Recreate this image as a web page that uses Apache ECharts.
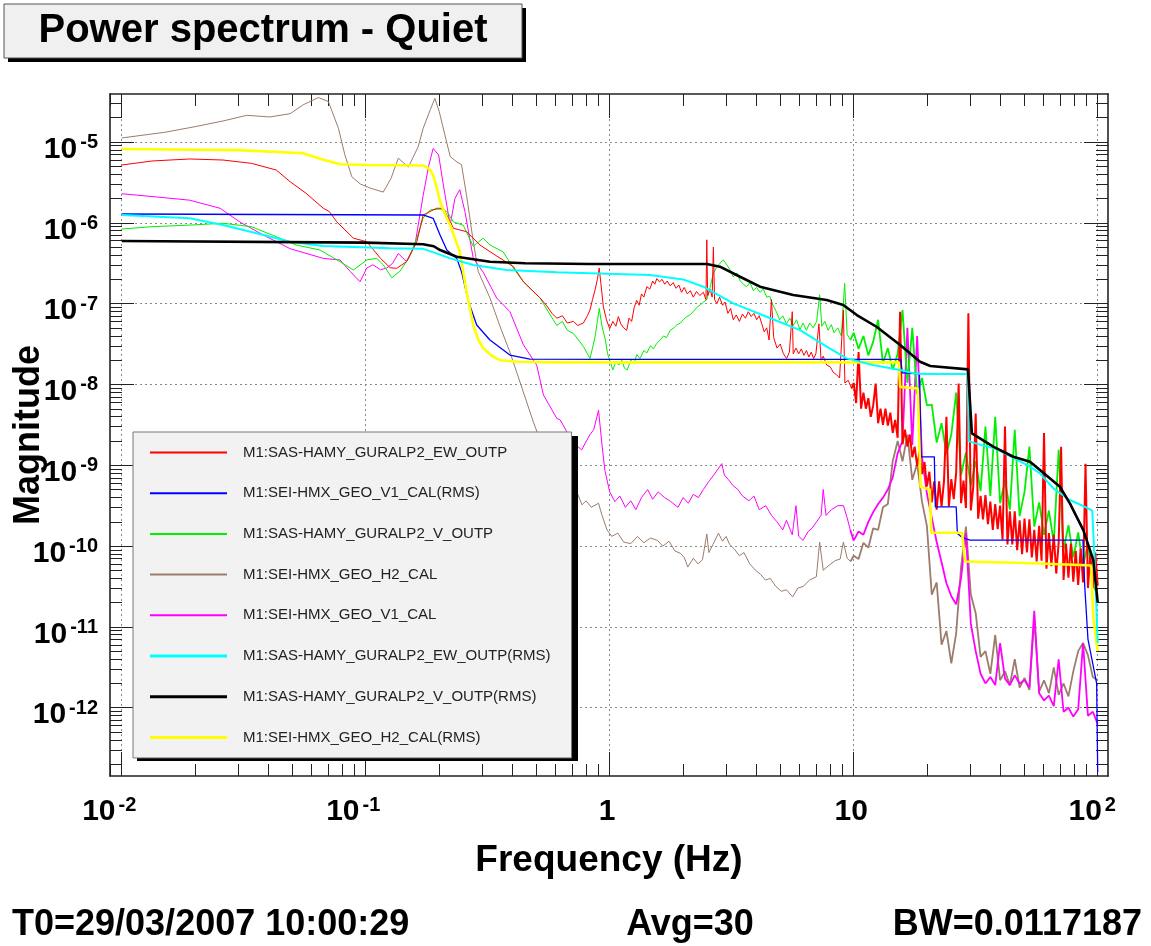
<!DOCTYPE html>
<html><head><meta charset="utf-8">
<script src="https://cdn.jsdelivr.net/npm/echarts@6/dist/echarts.min.js"></script>
<style>html,body{margin:0;padding:0;background:#fff}#c{width:1151px;height:946px}</style>
</head><body><div id="c"></div>
<script>
// ---- Names & colours ----
const seriesNames = [
  'M1:SAS-HAMY_GURALP2_EW_OUTP',
  'M1:SEI-HMX_GEO_V1_CAL(RMS)',
  'M1:SAS-HAMY_GURALP2_V_OUTP',
  'M1:SEI-HMX_GEO_H2_CAL',
  'M1:SEI-HMX_GEO_V1_CAL',
  'M1:SAS-HAMY_GURALP2_EW_OUTP(RMS)',
  'M1:SAS-HAMY_GURALP2_V_OUTP(RMS)',
  'M1:SEI-HMX_GEO_H2_CAL(RMS)'
];
const seriesColors = ['#ff0000','#0000ff','#00f000','#9c7c6c','#ff00ff','#00ffff','#000000','#ffff00'];

// ---- Tick values ----
const xMajorTicks = [0.01, 0.1, 1, 10, 100];
const yMajorTicks = [1e-12, 1e-11, 1e-10, 1e-9, 1e-8, 1e-7, 1e-6, 1e-5];

// ---- Data: frequency in Hz, magnitude given as log10(magnitude) ----
const hfFreqFine = [10,10.23,10.47,10.72,10.96,11.22,11.48,11.75,12.02,12.30,12.59,12.88,13.18,13.49,13.80,14.13,14.45,14.79,15.14,15.49,15.85,16.22,16.60,16.98,17.38,17.78,18.20,18.62,19.05,19.50,19.95,20.42,20.89,21.38,21.88,22.39,22.91,23.44,23.99,24.55,25.12,25.70,26.30,26.92,27.54,28.18,28.84,29.51,30.20,30.90,31.62,32.36,33.11,33.88,34.67,35.48,36.31,37.15,38.02,38.90,39.81,40.74,41.69,42.66,43.65,44.67,45.71,46.77,47.86,48.98,50.12,51.29,52.48,53.70,54.95,56.23,57.54,58.88,60.26,61.66,63.10,64.57,66.07,67.61,69.18,70.79,72.44,74.13,75.86,77.62,79.43,81.28,83.18,85.11,87.10,89.13,91.20,93.33,95.50,97.72,100];
const hfFreq = [10,10.47,10.96,11.48,12.02,12.59,13.18,13.80,14.45,15.14,15.85,16.60,17.38,18.20,19.05,19.95,20.89,21.88,22.91,23.99,25.12,26.30,27.54,28.84,30.20,31.62,33.11,34.67,36.31,38.02,39.81,41.69,43.65,45.71,47.86,50.12,52.48,54.95,57.54,60.26,63.10,66.07,69.18,72.44,75.86,79.43,83.18,87.10,91.20,95.50,100];

const redLF = [[0.01,-5.285],[0.0133,-5.235],[0.019,-5.21],[0.026,-5.223],[0.034,-5.264],[0.043,-5.347],[0.049,-5.491],[0.057,-5.635],[0.067,-5.82],[0.071,-5.862],[0.076,-5.986],[0.089,-6.19],[0.101,-6.234],[0.115,-6.44],[0.126,-6.556],[0.134,-6.563],[0.147,-6.481],[0.162,-6.234],[0.172,-5.903],[0.195,-5.82],[0.208,-5.82],[0.229,-6.068],[0.259,-6.11],[0.294,-6.275],[0.323,-6.357],[0.403,-6.543],[0.443,-6.729],[0.518,-6.93],[0.55,-7.02],[0.58,-7.12],[0.607,-7.18],[0.64,-7.15],[0.67,-7.24],[0.71,-7.22],[0.74,-7.27],[0.78,-7.24],[0.81,-7.15],[0.83,-7.08],[0.85,-6.95],[0.871,-6.83],[0.89,-6.70],[0.906,-6.56],[0.92,-6.75],[0.942,-7.04],[0.97,-7.20],[1.0,-7.31],[1.03,-7.22],[1.06,-7.28],[1.085,-7.16],[1.11,-7.25],[1.14,-7.30],[1.174,-7.33],[1.20,-7.18],[1.23,-7.22],[1.26,-7.05],[1.29,-6.96],[1.32,-7.02],[1.35,-6.88],[1.38,-6.92],[1.42,-6.79],[1.46,-6.82],[1.50,-6.72],[1.53,-6.76],[1.56,-6.69],[1.60,-6.73],[1.64,-6.70],[1.68,-6.76],[1.72,-6.72],[1.77,-6.78],[1.82,-6.74],[1.87,-6.81],[1.92,-6.77],[1.97,-6.86],[2.02,-6.80],[2.08,-6.88],[2.14,-6.84],[2.2,-6.92],[2.27,-6.85],[2.34,-6.90],[2.42,-6.86],[2.48,-6.95],[2.50,-6.21],[2.52,-6.90],[2.58,-6.82],[2.63,-6.92],[2.66,-6.30],[2.69,-6.95],[2.75,-7.00],[2.82,-6.92],[2.90,-7.02],[2.97,-6.98],[3.05,-7.12],[3.13,-7.06],[3.21,-7.20],[3.30,-7.14],[3.40,-7.22],[3.50,-7.13],[3.60,-7.18],[3.70,-7.10],[3.80,-7.16],[3.90,-7.12],[4.00,-7.20],[4.10,-7.15],[4.20,-7.25],[4.30,-7.35],[4.40,-7.30],[4.50,-7.45],[4.60,-6.95],[4.70,-7.42],[4.85,-7.55],[5.00,-7.50],[5.15,-7.62],[5.31,-7.68],[5.45,-7.60],[5.60,-7.10],[5.65,-7.62],[5.80,-7.55],[5.95,-7.62],[6.10,-7.56],[6.25,-7.64],[6.40,-7.58],[6.55,-7.66],[6.70,-7.60],[6.85,-7.68],[7.00,-7.62],[7.20,-7.25],[7.35,-7.70],[7.50,-7.65],[7.75,-7.76],[8.00,-7.78],[8.25,-7.85],[8.50,-7.88],[8.75,-7.92],[9.07,-7.08],[9.2,-7.98],[9.5,-7.95],[9.8,-8.05]];
const redHF = [-7.98,-8.23,-7.60,-8.30,-8.10,-8.30,-8.17,-8.40,-8.26,-7.99,-8.48,-8.30,-8.50,-8.30,-8.51,-8.35,-8.60,-8.44,-8.66,-7.10,-8.74,-8.56,-8.77,-8.62,-8.90,-8.77,-9.01,-8.83,-9.11,-8.96,-9.26,-9.08,-9.46,-9.20,-9.55,-9.20,-9.51,-9.20,-8.40,-9.51,-9.17,-9.42,-9.09,-7.99,-9.47,-9.19,-9.53,-7.12,-9.56,-9.27,-8.36,-9.66,-9.38,-9.67,-9.37,-9.73,-9.45,-9.80,-9.48,-9.79,-9.50,-9.92,-8.52,-9.98,-9.57,-9.98,-9.57,-10.05,-9.68,-10.10,-9.66,-10.08,-9.67,-10.14,-9.80,-10.19,-9.75,-10.18,-8.60,-10.28,-9.84,-10.25,-9.86,-10.34,-9.96,-8.77,-10.42,-9.97,-10.39,-9.97,-10.44,-10.06,-10.48,-10.03,-10.45,-8.98,-10.52,-10.10,-10.52,-10.08,-10.49];

const greenLF = [[0.01,-6.077],[0.0133,-6.048],[0.019,-6.028],[0.026,-6.006],[0.034,-6.048],[0.043,-6.172],[0.052,-6.275],[0.065,-6.337],[0.0785,-6.481],[0.089,-6.584],[0.101,-6.46],[0.111,-6.44],[0.118,-6.52],[0.128,-6.68],[0.138,-6.60],[0.150,-6.44],[0.162,-6.19],[0.172,-5.94],[0.184,-5.84],[0.202,-5.83],[0.215,-5.86],[0.229,-5.99],[0.251,-6.03],[0.276,-6.29],[0.303,-6.19],[0.323,-6.275],[0.366,-6.36],[0.403,-6.56],[0.443,-6.73],[0.518,-6.93],[0.56,-7.10],[0.607,-7.27],[0.64,-7.22],[0.67,-7.33],[0.71,-7.37],[0.745,-7.45],[0.78,-7.53],[0.81,-7.62],[0.83,-7.68],[0.85,-7.55],[0.871,-7.41],[0.89,-7.22],[0.906,-7.06],[0.93,-7.28],[0.96,-7.45],[0.98,-7.62],[1.0,-7.70],[1.03,-7.82],[1.06,-7.72],[1.09,-7.76],[1.12,-7.70],[1.15,-7.80],[1.18,-7.82],[1.22,-7.70],[1.26,-7.74],[1.29,-7.63],[1.33,-7.68],[1.38,-7.58],[1.42,-7.61],[1.47,-7.52],[1.51,-7.56],[1.56,-7.49],[1.61,-7.45],[1.66,-7.40],[1.71,-7.42],[1.77,-7.33],[1.83,-7.30],[1.89,-7.26],[1.95,-7.24],[2.0,-7.20],[2.07,-7.16],[2.13,-7.14],[2.2,-7.10],[2.27,-7.05],[2.34,-7.02],[2.42,-6.98],[2.5,-6.95],[2.58,-6.80],[2.66,-6.62],[2.74,-6.55],[2.83,-6.50],[2.92,-6.46],[3.02,-6.52],[3.11,-6.58],[3.21,-6.67],[3.32,-6.62],[3.43,-6.72],[3.53,-6.76],[3.64,-6.79],[3.76,-6.74],[3.88,-6.84],[4.0,-6.80],[4.13,-6.86],[4.26,-6.82],[4.4,-6.92],[4.53,-6.91],[4.67,-7.02],[4.82,-7.10],[4.97,-7.20],[5.12,-7.15],[5.3,-7.25],[5.47,-7.18],[5.65,-7.27],[5.83,-7.20],[6.02,-7.32],[6.2,-7.24],[6.4,-7.33],[6.6,-7.24],[6.82,-7.30],[7.05,-7.22],[7.25,-6.89],[7.4,-7.28],[7.62,-7.22],[7.85,-7.33],[8.1,-7.26],[8.3,-7.36],[8.6,-7.30],[8.9,-7.40],[9.18,-6.75],[9.4,-7.38],[9.7,-7.45]];
const greenHF = [-7.36,-7.56,-7.40,-7.64,-7.47,-7.20,-7.74,-7.55,-7.82,-7.62,-7.08,-7.98,-7.30,-8.12,-7.92,-8.26,-8.25,-8.72,-8.48,-8.86,-8.62,-8.10,-9.12,-8.84,-9.25,-8.95,-9.32,-8.52,-9.38,-8.40,-9.47,-9.18,-9.55,-8.56,-9.63,-9.33,-8.77,-9.76,-9.46,-9.86,-9.56,-9.96,-8.81,-10.05,-9.74,-10.14,-9.83,-10.25,-9.96,-10.48,-10.60];

const brownLF = [[0.01,-4.95],[0.015,-4.88],[0.02,-4.81],[0.026,-4.74],[0.0325,-4.67],[0.0405,-4.69],[0.049,-4.65],[0.0554,-4.54],[0.064,-4.45],[0.0703,-4.50],[0.0773,-4.83],[0.082,-5.15],[0.0877,-5.43],[0.095,-5.52],[0.1043,-5.57],[0.118,-5.62],[0.127,-5.45],[0.136,-5.20],[0.1496,-5.31],[0.164,-5.06],[0.172,-4.83],[0.184,-4.60],[0.192,-4.46],[0.2,-4.62],[0.211,-4.91],[0.222,-5.18],[0.237,-5.25],[0.247,-5.28],[0.259,-5.66],[0.275,-6.20],[0.289,-6.60],[0.323,-6.93],[0.355,-7.28],[0.39,-7.60],[0.43,-7.98],[0.486,-8.46],[0.55,-8.90],[0.62,-9.22],[0.70,-9.42],[0.74,-9.36],[0.77,-9.49],[0.80,-9.44],[0.84,-9.52],[0.90,-9.47],[0.93,-9.62],[0.975,-9.80],[1.02,-9.88],[1.08,-9.84],[1.14,-9.95],[1.22,-9.97],[1.30,-9.88],[1.38,-9.96],[1.47,-9.90],[1.57,-9.93],[1.65,-10.00],[1.75,-9.94],[1.85,-10.06],[1.95,-10.09],[2.02,-10.14],[2.09,-10.26],[2.2,-10.15],[2.3,-10.22],[2.4,-10.17],[2.5,-9.85],[2.55,-10.08],[2.65,-9.98],[2.79,-9.84],[2.9,-9.94],[3.0,-9.88],[3.1,-9.98],[3.25,-10.04],[3.4,-10.12],[3.55,-10.08],[3.75,-10.22],[3.96,-10.30],[4.15,-10.35],[4.35,-10.42],[4.55,-10.40],[4.8,-10.50],[5.05,-10.56],[5.3,-10.54],[5.62,-10.63],[5.9,-10.52],[6.2,-10.50],[6.6,-10.42],[7.03,-10.38],[7.25,-9.95],[7.5,-10.30],[7.9,-10.24],[8.4,-10.18],[8.8,-10.16],[9.07,-9.95],[9.4,-10.15],[9.7,-10.19]];
const brownHF = [-10.12,-10.16,-9.96,-10.02,-9.78,-9.80,-9.52,-9.48,-8.95,-8.70,-8.95,-8.62,-9.18,-8.98,-9.45,-9.75,-10.60,-10.45,-11.22,-11.05,-11.45,-11.08,-10.26,-9.76,-10.60,-10.83,-11.37,-11.30,-11.58,-11.10,-11.66,-11.55,-11.72,-11.40,-11.75,-11.63,-11.78,-10.90,-11.80,-11.66,-11.82,-11.50,-11.84,-11.70,-11.86,-11.55,-11.30,-11.20,-11.35,-11.62,-11.66];

const magentaLF = [[0.01,-5.64],[0.0139,-5.68],[0.019,-5.72],[0.0253,-5.82],[0.0305,-5.99],[0.038,-6.15],[0.049,-6.32],[0.067,-6.44],[0.0785,-6.46],[0.0863,-6.60],[0.0948,-6.73],[0.101,-6.56],[0.107,-6.52],[0.115,-6.58],[0.122,-6.56],[0.129,-6.50],[0.136,-6.38],[0.147,-6.48],[0.159,-6.28],[0.172,-5.66],[0.181,-5.30],[0.189,-5.08],[0.199,-5.16],[0.208,-5.53],[0.222,-6.03],[0.232,-5.70],[0.243,-5.59],[0.255,-5.86],[0.276,-6.44],[0.303,-6.61],[0.344,-6.93],[0.39,-7.10],[0.443,-7.51],[0.502,-7.76],[0.535,-8.13],[0.607,-8.42],[0.627,-8.44],[0.70,-8.70],[0.767,-8.81],[0.83,-8.62],[0.86,-8.56],[0.90,-8.32],[0.93,-8.75],[0.955,-9.06],[1.0,-9.33],[1.05,-9.45],[1.1,-9.38],[1.16,-9.52],[1.22,-9.44],[1.28,-9.55],[1.35,-9.40],[1.43,-9.30],[1.5,-9.42],[1.58,-9.33],[1.68,-9.40],[1.78,-9.45],[1.905,-9.52],[2.0,-9.40],[2.1,-9.47],[2.2,-9.36],[2.31,-9.40],[2.42,-9.30],[2.55,-9.20],[2.7,-9.10],[2.88,-8.98],[2.95,-9.12],[3.07,-9.18],[3.2,-9.25],[3.35,-9.30],[3.5,-9.38],[3.72,-9.44],[3.9,-9.38],[4.1,-9.55],[4.36,-9.50],[4.6,-9.62],[4.85,-9.70],[5.12,-9.80],[5.3,-9.68],[5.6,-9.86],[5.8,-9.50],[5.95,-9.88],[6.2,-9.93],[6.5,-9.82],[6.75,-9.78],[7.04,-9.70],[7.35,-9.62],[7.5,-9.30],[7.7,-9.62],[8.1,-9.55],[8.6,-9.50],[9.08,-9.50],[9.4,-9.65],[9.68,-9.80]];
const magentaHF = [-9.93,-9.82,-9.86,-9.70,-9.58,-9.48,-9.40,-9.30,-9.15,-8.85,-8.70,-7.30,-8.75,-7.40,-8.90,-9.35,-9.65,-9.95,-10.20,-10.46,-10.62,-10.72,-10.40,-9.84,-10.96,-11.30,-11.58,-11.70,-11.62,-11.72,-11.20,-11.64,-11.72,-11.60,-11.70,-11.66,-11.75,-10.80,-11.82,-11.91,-11.85,-11.98,-11.40,-12.05,-12.00,-12.11,-12.02,-11.20,-12.10,-12.05,-12.20];

const blueRMS = [[0.01,-5.891],[0.172,-5.903],[0.189,-5.944],[0.2017,-6.151],[0.215,-6.337],[0.236,-6.44],[0.247,-6.605],[0.264,-6.977],[0.285,-7.265],[0.323,-7.45],[0.39,-7.636],[0.471,-7.686],[1,-7.69],[15.6,-7.69],[15.8,-7.855],[18.6,-7.87],[18.9,-8.895],[21.4,-8.895],[21.6,-9.514],[26.3,-9.514],[26.6,-9.843],[28,-9.90],[30,-9.926],[87,-9.926],[88.5,-10.5],[91.2,-11.15],[99,-11.70],[100,-12.8]];
const cyanRMS = [[0.01,-5.903],[0.019,-5.944],[0.026,-6.027],[0.0357,-6.13],[0.049,-6.234],[0.067,-6.287],[0.126,-6.316],[0.172,-6.322],[0.195,-6.378],[0.222,-6.44],[0.276,-6.522],[0.378,-6.584],[0.607,-6.613],[0.83,-6.625],[1.46,-6.646],[2.0,-6.70],[2.42,-6.791],[3.21,-6.996],[4.4,-7.162],[6.03,-7.327],[7.75,-7.533],[9.36,-7.677],[12,-7.76],[15.5,-7.822],[17.7,-7.863],[20,-7.87],[29.3,-7.87],[29.6,-8.70],[30.8,-8.72],[38.5,-8.80],[52.8,-9.017],[58,-9.10],[65.8,-9.286],[76.9,-9.43],[88.7,-9.514],[95,-9.56],[97.5,-10.3],[100,-11.2]];
const blackRMS = [[0.01,-6.225],[0.1,-6.245],[0.172,-6.266],[0.19,-6.29],[0.2017,-6.337],[0.236,-6.42],[0.323,-6.481],[0.45,-6.50],[0.83,-6.51],[2.5,-6.51],[2.83,-6.543],[3.42,-6.667],[4.13,-6.79],[5.65,-6.894],[7.75,-6.955],[9.06,-7.017],[10.3,-7.141],[12.4,-7.286],[15.5,-7.512],[18.7,-7.719],[20.6,-7.772],[29.4,-7.813],[30.5,-8.606],[37.3,-8.77],[45.1,-8.895],[52.8,-8.957],[58,-9.06],[70,-9.266],[76.9,-9.472],[87.3,-9.802],[95.9,-10.17],[100,-10.7]];
const yellowRMS = [[0.01,-5.087],[0.03,-5.10],[0.0554,-5.14],[0.067,-5.22],[0.0785,-5.276],[0.1,-5.285],[0.172,-5.29],[0.182,-5.33],[0.189,-5.41],[0.196,-5.58],[0.2017,-5.74],[0.212,-5.90],[0.222,-6.03],[0.243,-6.36],[0.259,-6.85],[0.276,-7.27],[0.29,-7.45],[0.303,-7.55],[0.33,-7.65],[0.355,-7.70],[0.42,-7.72],[0.6,-7.727],[15.3,-7.727],[15.5,-8.03],[18.3,-8.05],[18.8,-9.27],[20.5,-9.30],[20.8,-9.835],[27.8,-9.835],[28.6,-10.19],[50,-10.21],[85,-10.235],[94,-10.24],[96,-10.9],[99,-11.2],[100,-11.3]];

// ---- build data pairs [Hz, magnitude] ----
function pairs(list) { return list.map(p => [p[0], Math.pow(10, p[1])]); }
function gridPairs(freqs, logs) { const n = Math.min(freqs.length, logs.length); const out = []; for (let i = 0; i < n; i++) out.push([freqs[i], Math.pow(10, logs[i])]); return out; }

// parts: [seriesIndex, data, width]  (drawing order: first = bottom)
const parts = [
  [3, pairs(brownLF), 1], [3, gridPairs(hfFreq, brownHF), 1.8],
  [4, pairs(magentaLF), 1], [4, gridPairs(hfFreq, magentaHF), 1.8],
  [2, pairs(greenLF), 1], [2, gridPairs(hfFreq, greenHF), 1.8],
  [0, pairs(redLF), 1], [0, gridPairs(hfFreqFine, redHF), 2],
  [1, pairs(blueRMS), 1.3],
  [7, pairs(yellowRMS), 2.6],
  [5, pairs(cyanRMS), 2],
  [6, pairs(blackRMS), 2.6]
];
// join the low- and high-frequency pieces so each line is continuous
for (let k = 0; k < parts.length - 1; k++) {
  if (parts[k][0] === parts[k + 1][0]) { parts[k + 1][1].unshift(parts[k][1][parts[k][1].length - 1]); }
}

// ---- minor tick values (2..9 x decade) ----
function minorTicks(e0, e1) { const out = []; for (let e = e0; e <= e1; e++) for (let k = 2; k < 10; k++) out.push(+(k * Math.pow(10, e)).toPrecision(3)); return out; }
const xMinorTicks = minorTicks(-3, 2);
const yMinorTicks = minorTicks(-13, -5);

const X_MIN = 0.008954, X_MAX = 110.2;
const Y_MIN = 1.429e-13, Y_MAX = 3.926e-5;

const FONT = "'Liberation Sans', Arial, Helvetica, sans-serif";
function richFor(padS) {
  const sup = { fontSize: 20, fontWeight: 'bold', fontFamily: FONT, color: '#000', lineHeight: 12, verticalAlign: 'top' };
  return {
    b: { fontSize: 30, fontWeight: 'bold', fontFamily: FONT, color: '#000', lineHeight: 34 },
    s: Object.assign({}, sup, { padding: [0, 0, 0, 3] }),
    sn: Object.assign({}, sup, { padding: [0, 25, 0, 3] }),
    sp: Object.assign({}, sup, { padding: [0, 11, 0, 3] }),
    p: { fontSize: 30, fontWeight: 'bold', fontFamily: FONT, color: '#000', lineHeight: 34, padding: [0, padS, 0, 0] }
  };
}
function expOf(v) { return Math.round(Math.log10(v)); }
function yFmt(v) { return '{b|10}{s|' + expOf(v) + '}'; }
function xFmt(v) {
  const e = expOf(v);
  if (e === 0) return '{p|1}';
  if (e === 1) return '{p|10}';
  return '{b|10}{' + (e < 0 ? 'sn' : 'sp') + '|' + e + '}';
}

const frameLine = { show: true, onZero: false, lineStyle: { color: '#222', width: 1.6 } };
const gridDots = { show: true, lineStyle: { color: '#8a8a8a', width: 1, type: [2, 3] } };

function xAx(pos, major) {
  const main = major && pos === 'bottom';
  return {
    type: 'log', position: pos, min: X_MIN, max: X_MAX, logBase: 10,
    axisLine: major ? frameLine : { show: false },
    axisTick: { show: true, inside: true, length: major ? 24 : 12, customValues: major ? xMajorTicks : xMinorTicks, lineStyle: { color: '#222', width: 1 } },
    minorTick: { show: false },
    axisLabel: main ? { show: true, customValues: xMajorTicks, formatter: xFmt, rich: richFor(5), margin: 19 } : { show: false },
    splitLine: main ? gridDots : { show: false },
    name: main ? 'Frequency (Hz)' : '',
    nameLocation: 'middle', nameGap: 66, nameMoveOverlap: false,
    nameTextStyle: { fontSize: 37, fontWeight: 'bold', fontFamily: FONT, color: '#000' }
  };
}
function yAx(pos, major) {
  const main = major && pos === 'left';
  return {
    type: 'log', position: pos, min: Y_MIN, max: Y_MAX, logBase: 10,
    axisLine: major ? frameLine : { show: false },
    axisTick: { show: true, inside: true, length: major ? 24 : 12, customValues: major ? yMajorTicks : yMinorTicks, lineStyle: { color: '#222', width: 1 } },
    minorTick: { show: false },
    axisLabel: main ? { show: true, customValues: yMajorTicks, formatter: yFmt, rich: richFor(0), margin: 12, padding: [15, 0, 0, 0] } : { show: false },
    splitLine: main ? gridDots : { show: false },
    name: main ? 'Magnitude' : '',
    nameLocation: 'middle', nameGap: 63, nameRotate: 90, nameMoveOverlap: false,
    nameTextStyle: { fontSize: 36, fontWeight: 'bold', fontFamily: FONT, color: '#000' }
  };
}

const series = parts.map(p => ({
  name: seriesNames[p[0]], type: 'line', xAxisIndex: 0, yAxisIndex: 0,
  data: p[1], showSymbol: false, symbol: 'none',
  lineStyle: { color: seriesColors[p[0]], width: p[2] }, itemStyle: { color: seriesColors[p[0]] },
  silent: true, animation: false
}));

const thinIcon = 'path://M0,0H77V2H0Z';
const thickIcon = 'path://M0,0H77V3H0Z';
const legendData = seriesNames.map((n, i) => ({ name: n, icon: (i >= 5) ? thickIcon : thinIcon }));

const chart = echarts.init(document.getElementById('c'), null, { renderer: 'canvas' });
chart.setOption({
  backgroundColor: '#ffffff',
  animation: false,
  grid: { left: 110, top: 94, width: 998, height: 682, containLabel: false, outerBoundsMode: 'none' },
  xAxis: [xAx('bottom', true), xAx('bottom', false), xAx('top', true), xAx('top', false)],
  yAxis: [yAx('left', true), yAx('left', false), yAx('right', true), yAx('right', false)],
  legend: {
    data: legendData, orient: 'vertical', left: 133, top: 432, z: 6,
    backgroundColor: '#f2f2f2', borderColor: '#777', borderWidth: 1,
    padding: [13, 21, 13, 17], itemGap: 25.7, itemWidth: 77, itemHeight: 14,
    symbolKeepAspect: true, selectedMode: false,
    textStyle: { fontSize: 15, color: '#222', fontFamily: FONT, padding: [0, 0, 0, 11] }
  },
  graphic: [
    // legend drop shadow
    { type: 'rect', z: 5, silent: true, shape: { x: 137, y: 436, width: 441, height: 325 }, style: { fill: '#000' } },
    // title box
    { type: 'rect', z: 10, shape: { x: 8, y: 8, width: 518, height: 54 }, style: { fill: '#000' } },
    { type: 'rect', z: 11, shape: { x: 4, y: 4, width: 518, height: 54 }, style: { fill: '#f0f0f0', stroke: '#555', lineWidth: 1 } },
    { type: 'text', z: 12, style: { x: 263, y: 31, text: 'Power spectrum - Quiet', font: "bold 40px " + FONT, fill: '#000', textAlign: 'center', textVerticalAlign: 'middle' } },
    // footer
    { type: 'text', z: 12, style: { x: 12, y: 925, text: 'T0=29/03/2007 10:00:29', font: "bold 36px " + FONT, fill: '#000', textAlign: 'left', textVerticalAlign: 'middle' } },
    { type: 'text', z: 12, style: { x: 690, y: 925, text: 'Avg=30', font: "bold 36px " + FONT, fill: '#000', textAlign: 'center', textVerticalAlign: 'middle' } },
    { type: 'text', z: 12, style: { x: 1142, y: 925, text: 'BW=0.0117187', font: "bold 36px " + FONT, fill: '#000', textAlign: 'right', textVerticalAlign: 'middle' } }
  ],
  series: series
});
</script></body></html>
